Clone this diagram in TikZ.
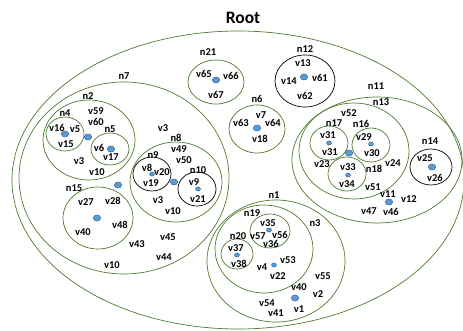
\documentclass[tikz,border=0pt]{standalone}
\usepackage{fontspec}
\setmainfont{Carlito}
\definecolor{setgreen}{HTML}{4E7A30}
\definecolor{dotfill}{HTML}{5B9BD5}
\definecolor{dotline}{HTML}{2F5F8A}
\begin{document}
\begin{tikzpicture}[x=1pt,y=-1pt,
  setline/.style={draw=setgreen,line width=0.7pt},
  blackset/.style={draw=black,line width=0.7pt},
  lbl/.style={inner sep=0pt,font=\fontsize{10.5}{12}\selectfont\bfseries},
  bigdot/.style={fill=dotfill,draw=dotline,line width=0.4pt},
]
\useasboundingbox (0,0) rectangle (463,331);

% title
\node[inner sep=0pt,font=\fontsize{17.5}{20}\selectfont\bfseries] (root) at (243,18) {Root};

% set boundaries
\draw[setline] (238,180) ellipse [x radius=226pt, y radius=149pt];
\draw[setline] (124,178) ellipse [x radius=105pt, y radius=96pt];   % n7
\draw[setline] (89,140) ellipse [x radius=46pt, y radius=40pt];     % n2
\draw[setline] (65,134) ellipse [x radius=19pt, y radius=17pt];     % n4
\draw[setline] (110,149) ellipse [x radius=19pt, y radius=16pt];    % n5
\draw[setline] (176,182) ellipse [x radius=46pt, y radius=40pt];    % n8
\draw[blackset] (152,174) ellipse [x radius=19pt, y radius=17pt];   % n9
\draw[blackset] (197,189) ellipse [x radius=19pt, y radius=17pt];   % n10
\draw[setline] (98,218) ellipse [x radius=35pt, y radius=31pt];     % n15
\draw[setline] (216,82) ellipse [x radius=28pt, y radius=22pt];     % n21
\draw[blackset] (305,81) ellipse [x radius=30pt, y radius=26pt];    % n12
\draw[setline] (257,129) ellipse [x radius=28pt, y radius=24pt];    % n6
\draw[setline] (377,160) ellipse [x radius=85pt, y radius=63pt];    % n11
\draw[setline] (354,151) ellipse [x radius=55pt, y radius=48pt];    % n13
\draw[setline] (329,143) ellipse [x radius=19pt, y radius=17pt];    % n17
\draw[setline] (371,145) ellipse [x radius=19pt, y radius=17pt];    % n16
\draw[setline] (347,174) ellipse [x radius=19pt, y radius=17pt];    % n18
\draw[blackset] (431,167) ellipse [x radius=21pt, y radius=18pt];   % n14
\draw[setline] (276,261) ellipse [x radius=69pt, y radius=61pt];    % n1
\draw[setline] (264,249) ellipse [x radius=49pt, y radius=44pt];    % n3
\draw[setline] (270,231) ellipse [x radius=20pt, y radius=17pt];    % n19
\draw[setline] (237,254) ellipse [x radius=16pt, y radius=15pt];    % n20

% element dots: large ones
\foreach \px/\py in {65/134,88/137,111/149,118/185,174/182,97/218,216/80,
  304/77,257/128,349/153,432/167,389/202,295/298}
  \draw[bigdot] (\px,\py) ellipse [x radius=3.7pt, y radius=3.1pt];
% element dots: small ones
\foreach \px/\py in {152/174,198/189,329/143,371/144,348/175,269/230,237/255,274/265}
  \draw[bigdot] (\px,\py) ellipse [x radius=2.5pt, y radius=2.1pt];

% labels: n7 and n2 side
\node[lbl] (tn7) at (124,76) {n7};
\node[lbl] (tn2) at (88,96) {n2};
\node[lbl] (tn4) at (65,113) {n4};
\node[lbl] (tv16) at (57,128) {v16};
\node[lbl] (tv5) at (75,129) {v5};
\node[lbl] (tv15) at (66,144) {v15};
\node[lbl] (tv59) at (96,111) {v59};
\node[lbl] (tv60) at (96,122) {v60};
\node[lbl] (tn5) at (110,129) {n5};
\node[lbl] (tv6) at (99,148) {v6};
\node[lbl] (tv17) at (111,157) {v17};
\node[lbl] (tv3a) at (79,161) {v3};
\node[lbl] (tv10a) at (97,172) {v10};
\node[lbl] (tv3b) at (163,128) {v3};
\node[lbl] (tn8) at (176,138) {n8};
\node[lbl] (tv49) at (179,149) {v49};
\node[lbl] (tv50) at (184,160) {v50};
\node[lbl] (tn9) at (153,155) {n9};
\node[lbl] (tv8) at (147,168) {v8};
\node[lbl] (tv20) at (162,172) {v20};
\node[lbl] (tv19) at (151,183) {v19};
\node[lbl] (tn10) at (198,170) {n10};
\node[lbl] (tv9) at (194,182) {v9};
\node[lbl] (tv21) at (198,199) {v21};
\node[lbl] (tv3c) at (158,200) {v3};
\node[lbl] (tv10b) at (173,211) {v10};
\node[lbl] (tn15) at (74,188) {n15};
\node[lbl] (tv27) at (86,202) {v27};
\node[lbl] (tv28) at (113,201) {v28};
\node[lbl] (tv40a) at (83,232) {v40};
\node[lbl] (tv48) at (120,225) {v48};
\node[lbl] (tv43) at (137,244) {v43};
\node[lbl] (tv45) at (168,237) {v45};
\node[lbl] (tv44) at (164,257) {v44};
\node[lbl] (tv10c) at (112,265) {v10};

% labels: top middle
\node[lbl] (tn21) at (208,52) {n21};
\node[lbl] (tv65) at (204,74) {v65};
\node[lbl] (tv66) at (231,76) {v66};
\node[lbl] (tv67) at (216,95) {v67};
\node[lbl] (tn12) at (305,49) {n12};
\node[lbl] (tv13) at (303,63) {v13};
\node[lbl] (tv14) at (289,81) {v14};
\node[lbl] (tv61) at (320,78) {v61};
\node[lbl] (tv62) at (305,96) {v62};
\node[lbl] (tn6) at (257,99) {n6};
\node[lbl] (tv7) at (261,115) {v7};
\node[lbl] (tv63) at (241,123) {v63};
\node[lbl] (tv64) at (273,123) {v64};
\node[lbl] (tv18) at (260,139) {v18};

% labels: n11 side
\node[lbl] (tn11) at (376,86) {n11};
\node[lbl] (tn13) at (381,102) {n13};
\node[lbl] (tv52) at (349,113) {v52};
\node[lbl] (tn17) at (334,123) {n17};
\node[lbl] (tn16) at (361,124) {n16};
\node[lbl] (tv31a) at (328,135) {v31};
\node[lbl] (tv31b) at (330,152) {v31};
\node[lbl] (tv29) at (364,137) {v29};
\node[lbl] (tv30) at (372,153) {v30};
\node[lbl] (tv23) at (322,164) {v23};
\node[lbl] (tv33) at (348,167) {v33};
\node[lbl] (tv34) at (347,184) {v34};
\node[lbl] (tn18) at (374,169) {n18};
\node[lbl] (tv24) at (393,163) {v24};
\node[lbl] (tv51) at (373,187) {v51};
\node[lbl] (tn14) at (430,141) {n14};
\node[lbl] (tv25) at (425,158) {v25};
\node[lbl] (tv26) at (435,178) {v26};
\node[lbl] (tv11) at (388,194) {v11};
\node[lbl] (tv12) at (409,199) {v12};
\node[lbl] (tv47) at (369,211) {v47};
\node[lbl] (tv46) at (391,212) {v46};

% labels: n1 side
\node[lbl] (tn1) at (274,195) {n1};
\node[lbl] (tn3) at (315,223) {n3};
\node[lbl] (tn19) at (252,213) {n19};
\node[lbl] (tv35) at (268,223) {v35};
\node[lbl] (tv57) at (258,236) {v57};
\node[lbl] (tv56) at (280,235) {v56};
\node[lbl] (tv36) at (271,244) {v36};
\node[lbl] (tn20) at (238,236) {n20};
\node[lbl] (tv37) at (236,248) {v37};
\node[lbl] (tv38) at (239,264) {v38};
\node[lbl] (tv4) at (262,267) {v4};
\node[lbl] (tv53) at (288,260) {v53};
\node[lbl] (tv22) at (278,276) {v22};
\node[lbl] (tv55) at (323,276) {v55};
\node[lbl] (tv40b) at (299,287) {v40};
\node[lbl] (tv2) at (318,294) {v2};
\node[lbl] (tv54) at (267,303) {v54};
\node[lbl] (tv41) at (276,313) {v41};
\node[lbl] (tv1) at (299,309) {v1};
\end{tikzpicture}
\end{document}
